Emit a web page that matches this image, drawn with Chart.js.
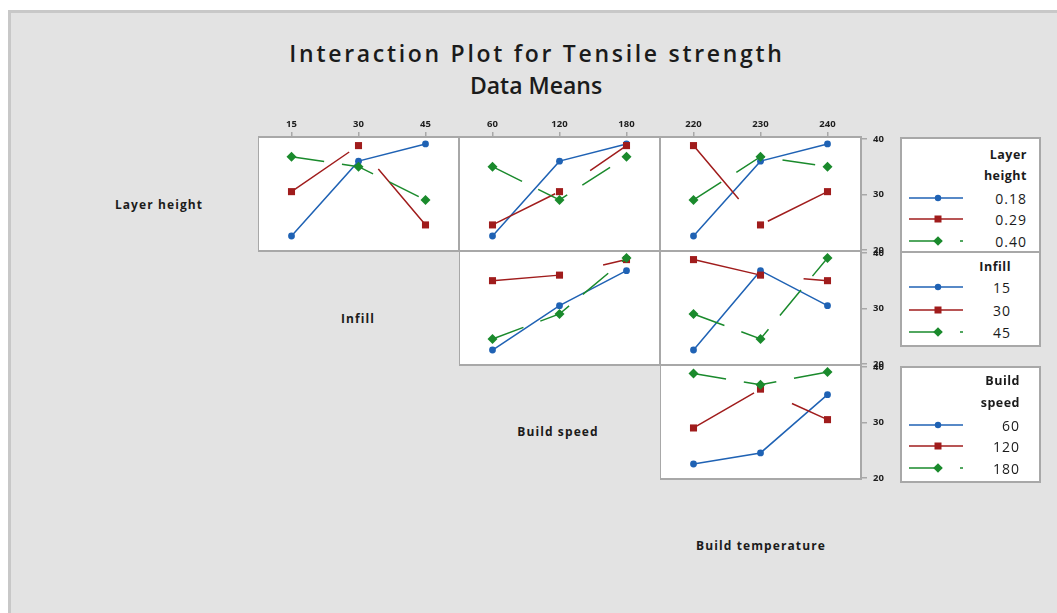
<!DOCTYPE html>
<html>
<head>
<meta charset="utf-8">
<script src="https://cdn.jsdelivr.net/npm/chart.js@4.4.1/dist/chart.umd.min.js"></script>
<style>
  html, body { margin: 0; padding: 0; background: #fff; width: 1057px; height: 613px; overflow: hidden; font-family: "Open Sans", "Noto Sans", sans-serif; }
  #frame { position: absolute; left: 8px; top: 10px; width: 1049px; height: 603px; box-sizing: border-box; background: #e3e3e3; border-left: 3px solid #c8c8c8; border-top: 3px solid #c8c8c8; }
  .t { position: absolute; white-space: nowrap; color: #1b1b1b; }
  .c { transform: translate(-50%, -50%); }
  .r { transform: translate(-100%, -50%); }
  canvas { position: absolute; }
  .leg { position: absolute; background: #fff; border: 2px solid #a8a8a8; box-sizing: border-box; }
  .head { font-size: 23px; font-weight: 600; }
  .main { letter-spacing: 2.7px; }
  .diag { font-size: 12px; font-weight: 700; letter-spacing: 1.1px; }
  .ltitle { font-size: 12.5px; font-weight: 700; letter-spacing: 0.5px; }
  .llab { font-size: 14px; letter-spacing: 1px; }
</style>
</head>
<body>
<div id="frame"></div>
<div class="t c head main" style="left:537px; top:53px;">Interaction Plot for Tensile strength</div>
<div class="t c head" style="left:536px; top:85px;">Data Means</div>
<div class="t c diag" style="left:159px; top:204px;">Layer height</div>
<div class="t c diag" style="left:358px; top:318px;">Infill</div>
<div class="t c diag" style="left:558px; top:431px;">Build speed</div>
<div class="t c diag" style="left:761px; top:545px;">Build temperature</div>
<script>
// Factor levels
const layerLevels = ['0.18', '0.29', '0.40'];
const infillLevels = ['15', '30', '45'];
const speedLevels = ['60', '120', '180'];
const tempLevels = ['220', '230', '240'];
const yTicks = [20, 30, 40];

// Tensile strength means: one row per trace level, one value per x-axis level
const layerByInfill = [[22.5, 36.0, 39.1], [30.5, 38.8, 24.5], [36.8, 35.0, 29.0]];
const layerBySpeed  = [[22.5, 36.0, 39.1], [24.5, 30.5, 38.8], [35.0, 29.0, 36.8]];
const layerByTemp   = [[22.5, 36.0, 39.1], [38.8, 24.5, 30.5], [29.0, 36.8, 35.0]];
const infillBySpeed = [[22.5, 30.5, 36.8], [35.0, 36.0, 38.8], [24.5, 29.0, 39.1]];
const infillByTemp  = [[22.5, 36.8, 30.5], [38.8, 36.0, 35.0], [29.0, 24.5, 39.1]];
const speedByTemp   = [[22.5, 24.5, 35.0], [29.0, 36.0, 30.5], [38.8, 36.8, 39.1]];

// Trace styles (first, second, third level)
const traceStyles = [
  { color: '#1f62b4', pointStyle: 'circle', pointRadius: 3.4, dash: [] },
  { color: '#a01c1c', pointStyle: 'rect', pointRadius: 5, dash: [70, 42] },
  { color: '#1a8a2c', pointStyle: 'rectRot', pointRadius: 5, dash: [33, 18] }
];

// Panel grid geometry
const COLS = [258, 459, 660], ROWS = [137, 251, 365];
const PW = 201, PH = 114, TOP = 25, RIGHT = 40, BOT = 12;
const GRAY = '#a8a8a8';
const tickFont = { family: '"Open Sans", sans-serif', size: 9.5, weight: 'bold' };

const panelFrame = {
  id: 'panelFrame',
  beforeDraw(chart) {
    const a = chart.chartArea, ctx = chart.ctx;
    ctx.save();
    ctx.fillStyle = '#fff';
    ctx.fillRect(a.left, a.top, a.right - a.left, a.bottom - a.top);
    ctx.restore();
  },
  afterDraw(chart) {
    const a = chart.chartArea, ctx = chart.ctx;
    ctx.save();
    ctx.strokeStyle = GRAY;
    ctx.lineWidth = 2;
    ctx.strokeRect(a.left, a.top, a.right - a.left, a.bottom - a.top);
    ctx.restore();
  }
};

function panel(col, row, xLabels, values) {
  const cv = document.createElement('canvas');
  const w = PW + RIGHT, h = TOP + PH + BOT;
  cv.width = w; cv.height = h;
  cv.style.width = w + 'px'; cv.style.height = h + 'px';
  cv.style.left = COLS[col] + 'px';
  cv.style.top = (ROWS[row] - TOP) + 'px';
  document.body.appendChild(cv);
  const showX = row === 0, showY = col === 2;
  const datasets = values.map((vals, i) => {
    const s = traceStyles[i];
    return {
      data: vals.map((v, j) => ({ x: j, y: v })),
      borderColor: s.color,
      backgroundColor: s.color,
      borderWidth: 1.5,
      borderDash: s.dash,
      pointStyle: s.pointStyle,
      pointRadius: s.pointRadius,
      pointBackgroundColor: s.color,
      pointBorderColor: s.color,
      pointBorderWidth: 0,
      tension: 0,
      order: 3 - i
    };
  });
  new Chart(cv, {
    type: 'line',
    data: { datasets },
    options: {
      responsive: false,
      animation: false,
      devicePixelRatio: 1,
      layout: { autoPadding: false, padding: { left: 0, right: 0, top: 0, bottom: BOT } },
      plugins: { legend: { display: false }, tooltip: { enabled: false }, title: { display: false } },
      scales: {
        x: {
          type: 'linear', position: 'top', min: -0.5, max: 2.5,
          afterBuildTicks(s) { s.ticks = xLabels.map((_, i) => ({ value: i })); },
          afterFit(s) { s.height = TOP; s.paddingLeft = 0; s.paddingRight = 0; },
          ticks: { display: showX, callback: v => xLabels[v], font: tickFont, color: '#1e1e1e', padding: 2, maxRotation: 0, autoSkip: false },
          grid: { display: showX, drawOnChartArea: false, drawTicks: true, tickLength: 5, color: GRAY, lineWidth: 1.5 },
          border: { display: false }
        },
        y: {
          type: 'linear', position: 'right', min: 19.8, max: 40.35,
          afterBuildTicks(s) { s.ticks = yTicks.map(v => ({ value: v })); },
          afterFit(s) { s.width = RIGHT; s.paddingTop = 0; s.paddingBottom = 0; },
          ticks: { display: showY, font: tickFont, color: '#1e1e1e', padding: 6 },
          grid: { display: showY, drawOnChartArea: false, drawTicks: true, tickLength: 6, color: GRAY, lineWidth: 1.5 },
          border: { display: false }
        }
      }
    },
    plugins: [panelFrame]
  });
}

panel(0, 0, infillLevels, layerByInfill);
panel(1, 0, speedLevels, layerBySpeed);
panel(2, 0, tempLevels, layerByTemp);
panel(1, 1, speedLevels, infillBySpeed);
panel(2, 1, tempLevels, infillByTemp);
panel(2, 2, tempLevels, speedByTemp);

// Legend boxes, one per trace factor
const legendBoxes = [
  { title: ['Layer', 'height'], levels: layerLevels, top: 137, height: 116, textRight: 1027, titleY: [154, 175], rowY: [198, 219, 241] },
  { title: ['Infill'], levels: infillLevels, top: 251, height: 96, textRight: 1011, titleY: [266], rowY: [287, 310, 332] },
  { title: ['Build', 'speed'], levels: speedLevels, top: 366, height: 117, textRight: 1020, titleY: [380, 402], rowY: [425, 446, 468] }
];
const LEG_LEFT = 900, LEG_W = 141, SAMPLE_X = 909;

function sampleSvg(s) {
  const c = s.color;
  let mark;
  if (s.pointStyle === 'circle') mark = `<circle cx="29" cy="6" r="3.2" fill="${c}"/>`;
  else if (s.pointStyle === 'rect') mark = `<rect x="25.5" y="2.5" width="7" height="7" fill="${c}"/>`;
  else mark = `<polygon points="29,1.2 33.8,6 29,10.8 24.2,6" fill="${c}"/>`;
  const dash = s.dash.length ? ` stroke-dasharray="${s.dash.join(' ')}"` : '';
  return `<svg width="56" height="12" style="position:absolute;left:${SAMPLE_X}px;" class="smp">` +
    `<line x1="0" y1="6" x2="54" y2="6" stroke="${c}" stroke-width="1.6"${dash}/>` + mark + `</svg>`;
}

legendBoxes.forEach(b => {
  const box = document.createElement('div');
  box.className = 'leg';
  box.style.left = LEG_LEFT + 'px'; box.style.top = b.top + 'px';
  box.style.width = LEG_W + 'px'; box.style.height = b.height + 'px';
  document.body.appendChild(box);
  b.title.forEach((line, i) => {
    const d = document.createElement('div');
    d.className = 't r ltitle';
    d.style.left = b.textRight + 'px'; d.style.top = b.titleY[i] + 'px';
    d.textContent = line;
    document.body.appendChild(d);
  });
  b.levels.forEach((lab, i) => {
    const wrap = document.createElement('div');
    wrap.style.position = 'absolute'; wrap.style.left = '0px'; wrap.style.top = (b.rowY[i] - 6) + 'px';
    wrap.innerHTML = sampleSvg(traceStyles[i]);
    document.body.appendChild(wrap);
    const d = document.createElement('div');
    d.className = 't r llab';
    d.style.left = b.textRight + 'px'; d.style.top = b.rowY[i] + 'px';
    d.textContent = lab;
    document.body.appendChild(d);
  });
});
</script>
</body>
</html>
